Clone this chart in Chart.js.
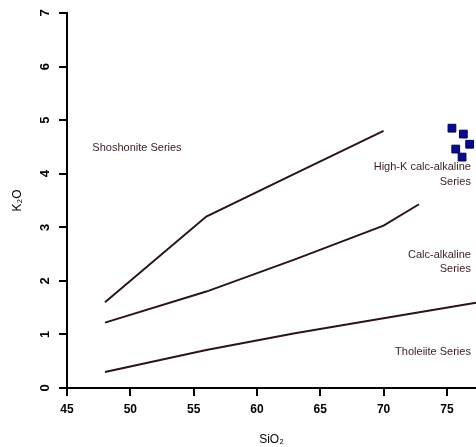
<!DOCTYPE html>
<html>
<head>
<meta charset="utf-8">
<script src="https://cdn.jsdelivr.net/npm/chart.js@4"></script>
<style>
  html, body { margin: 0; padding: 0; background: #fff; }
  #wrap { width: 476px; height: 447px; }
</style>
</head>
<body>
<div id="wrap"><canvas id="myChart"></canvas></div>
<script>
// K2O vs SiO2 classification (series boundaries + samples)

const xTicks = [45, 50, 55, 60, 65, 70, 75];
const yTicks = [0, 1, 2, 3, 4, 5, 6, 7];

// boundary lines
const shoshoniteLine = [[48, 1.6], [56, 3.2], [63, 4.0], [70, 4.8]];
const highKLine = [[48, 1.22], [56, 1.8], [63, 2.4], [70, 3.03], [72.8, 3.43]];
const tholeiiteLine = [[48, 0.3], [56, 0.71], [63, 1.02], [70, 1.3], [77.3, 1.59]];

// samples
const sampleSiO2 = [75.4, 76.3, 76.8, 75.7, 76.2];
const sampleK2O = [4.85, 4.74, 4.55, 4.46, 4.31];

// field labels
const fieldLabels = [
  { text: 'Shoshonite Series', x: 47.0, y: 4.48, align: 'left' },
  { text: 'High-K calc-alkaline', x: 76.9, y: 4.13, align: 'right' },
  { text: 'Series', x: 76.9, y: 3.85, align: 'right' },
  { text: 'Calc-alkaline', x: 76.9, y: 2.49, align: 'right' },
  { text: 'Series', x: 76.9, y: 2.23, align: 'right' },
  { text: 'Tholeiite Series', x: 76.9, y: 0.67, align: 'right' }
];

const toPts = arr => arr.map(p => ({ x: p[0], y: p[1] }));
const lineColor = '#2b1417';

const labelPlugin = {
  id: 'fieldLabels',
  afterDatasetsDraw(chart) {
    const c = chart.ctx;
    const sx = chart.scales.x, sy = chart.scales.y;
    c.save();
    c.font = '11px "Liberation Sans", Arial, sans-serif';
    c.fillStyle = '#3a1c1f';
    c.textBaseline = 'middle';
    fieldLabels.forEach(l => {
      c.textAlign = l.align;
      c.fillText(l.text, sx.getPixelForValue(l.x), sy.getPixelForValue(l.y));
    });
    c.restore();
  }
};

const ctx = document.getElementById('myChart');

new Chart(ctx, {
  type: 'scatter',
  data: {
    datasets: [
      {
        data: toPts(shoshoniteLine),
        showLine: true,
        borderColor: lineColor,
        borderWidth: 2,
        pointRadius: 0
      },
      {
        data: toPts(highKLine),
        showLine: true,
        borderColor: lineColor,
        borderWidth: 2,
        pointRadius: 0
      },
      {
        data: toPts(tholeiiteLine),
        showLine: true,
        borderColor: lineColor,
        borderWidth: 2,
        pointRadius: 0
      },
      {
        data: sampleSiO2.map((v, i) => ({ x: v, y: sampleK2O[i] })),
        pointStyle: 'rect',
        pointRadius: 5.5,
        backgroundColor: '#0b0b8c',
        borderColor: '#000060',
        borderWidth: 1
      }
    ]
  },
  options: {
    responsive: true,
    maintainAspectRatio: false,
    animation: false,
    layout: { autoPadding: false, padding: { top: 13, right: 0, bottom: 0, left: 0 } },
    plugins: {
      legend: { display: false },
      tooltip: { enabled: false }
    },
    scales: {
      x: {
        type: 'linear',
        min: 45,
        max: 77.3,
        afterBuildTicks: s => { s.ticks = xTicks.map(v => ({ value: v })); },
        afterFit: s => { s.height = 59; s.paddingLeft = 0; s.paddingRight = 0; },
        border: { color: '#000', width: 2 },
        grid: { drawOnChartArea: false, color: '#000', lineWidth: 2, tickLength: 8 },
        ticks: {
          color: '#000',
          padding: 6,
          maxRotation: 0,
          font: { family: '"Liberation Sans", Arial, sans-serif', size: 12, weight: 'bold' }
        },
        title: {
          display: true,
          text: 'SiO₂',
          color: '#000',
          padding: { top: 10, bottom: 0 },
          font: { family: '"Liberation Sans", Arial, sans-serif', size: 12 }
        }
      },
      y: {
        type: 'linear',
        min: 0,
        max: 7,
        afterBuildTicks: s => { s.ticks = yTicks.map(v => ({ value: v })); },
        afterFit: s => { s.width = 67; s.paddingTop = 0; s.paddingBottom = 0; },
        border: { color: '#000', width: 2 },
        grid: { drawOnChartArea: false, color: '#000', lineWidth: 2, tickLength: 8 },
        ticks: {
          color: '#000',
          minRotation: 90,
          maxRotation: 90,
          crossAlign: 'center',
          padding: 10,
          font: { family: '"Liberation Sans", Arial, sans-serif', size: 13, weight: 'bold' }
        },
        title: {
          display: true,
          text: 'K₂O',
          color: '#000',
          padding: { top: 10, bottom: 0 },
          font: { family: '"Liberation Sans", Arial, sans-serif', size: 12 }
        }
      }
    }
  },
  plugins: [labelPlugin]
});
</script>
</body>
</html>
